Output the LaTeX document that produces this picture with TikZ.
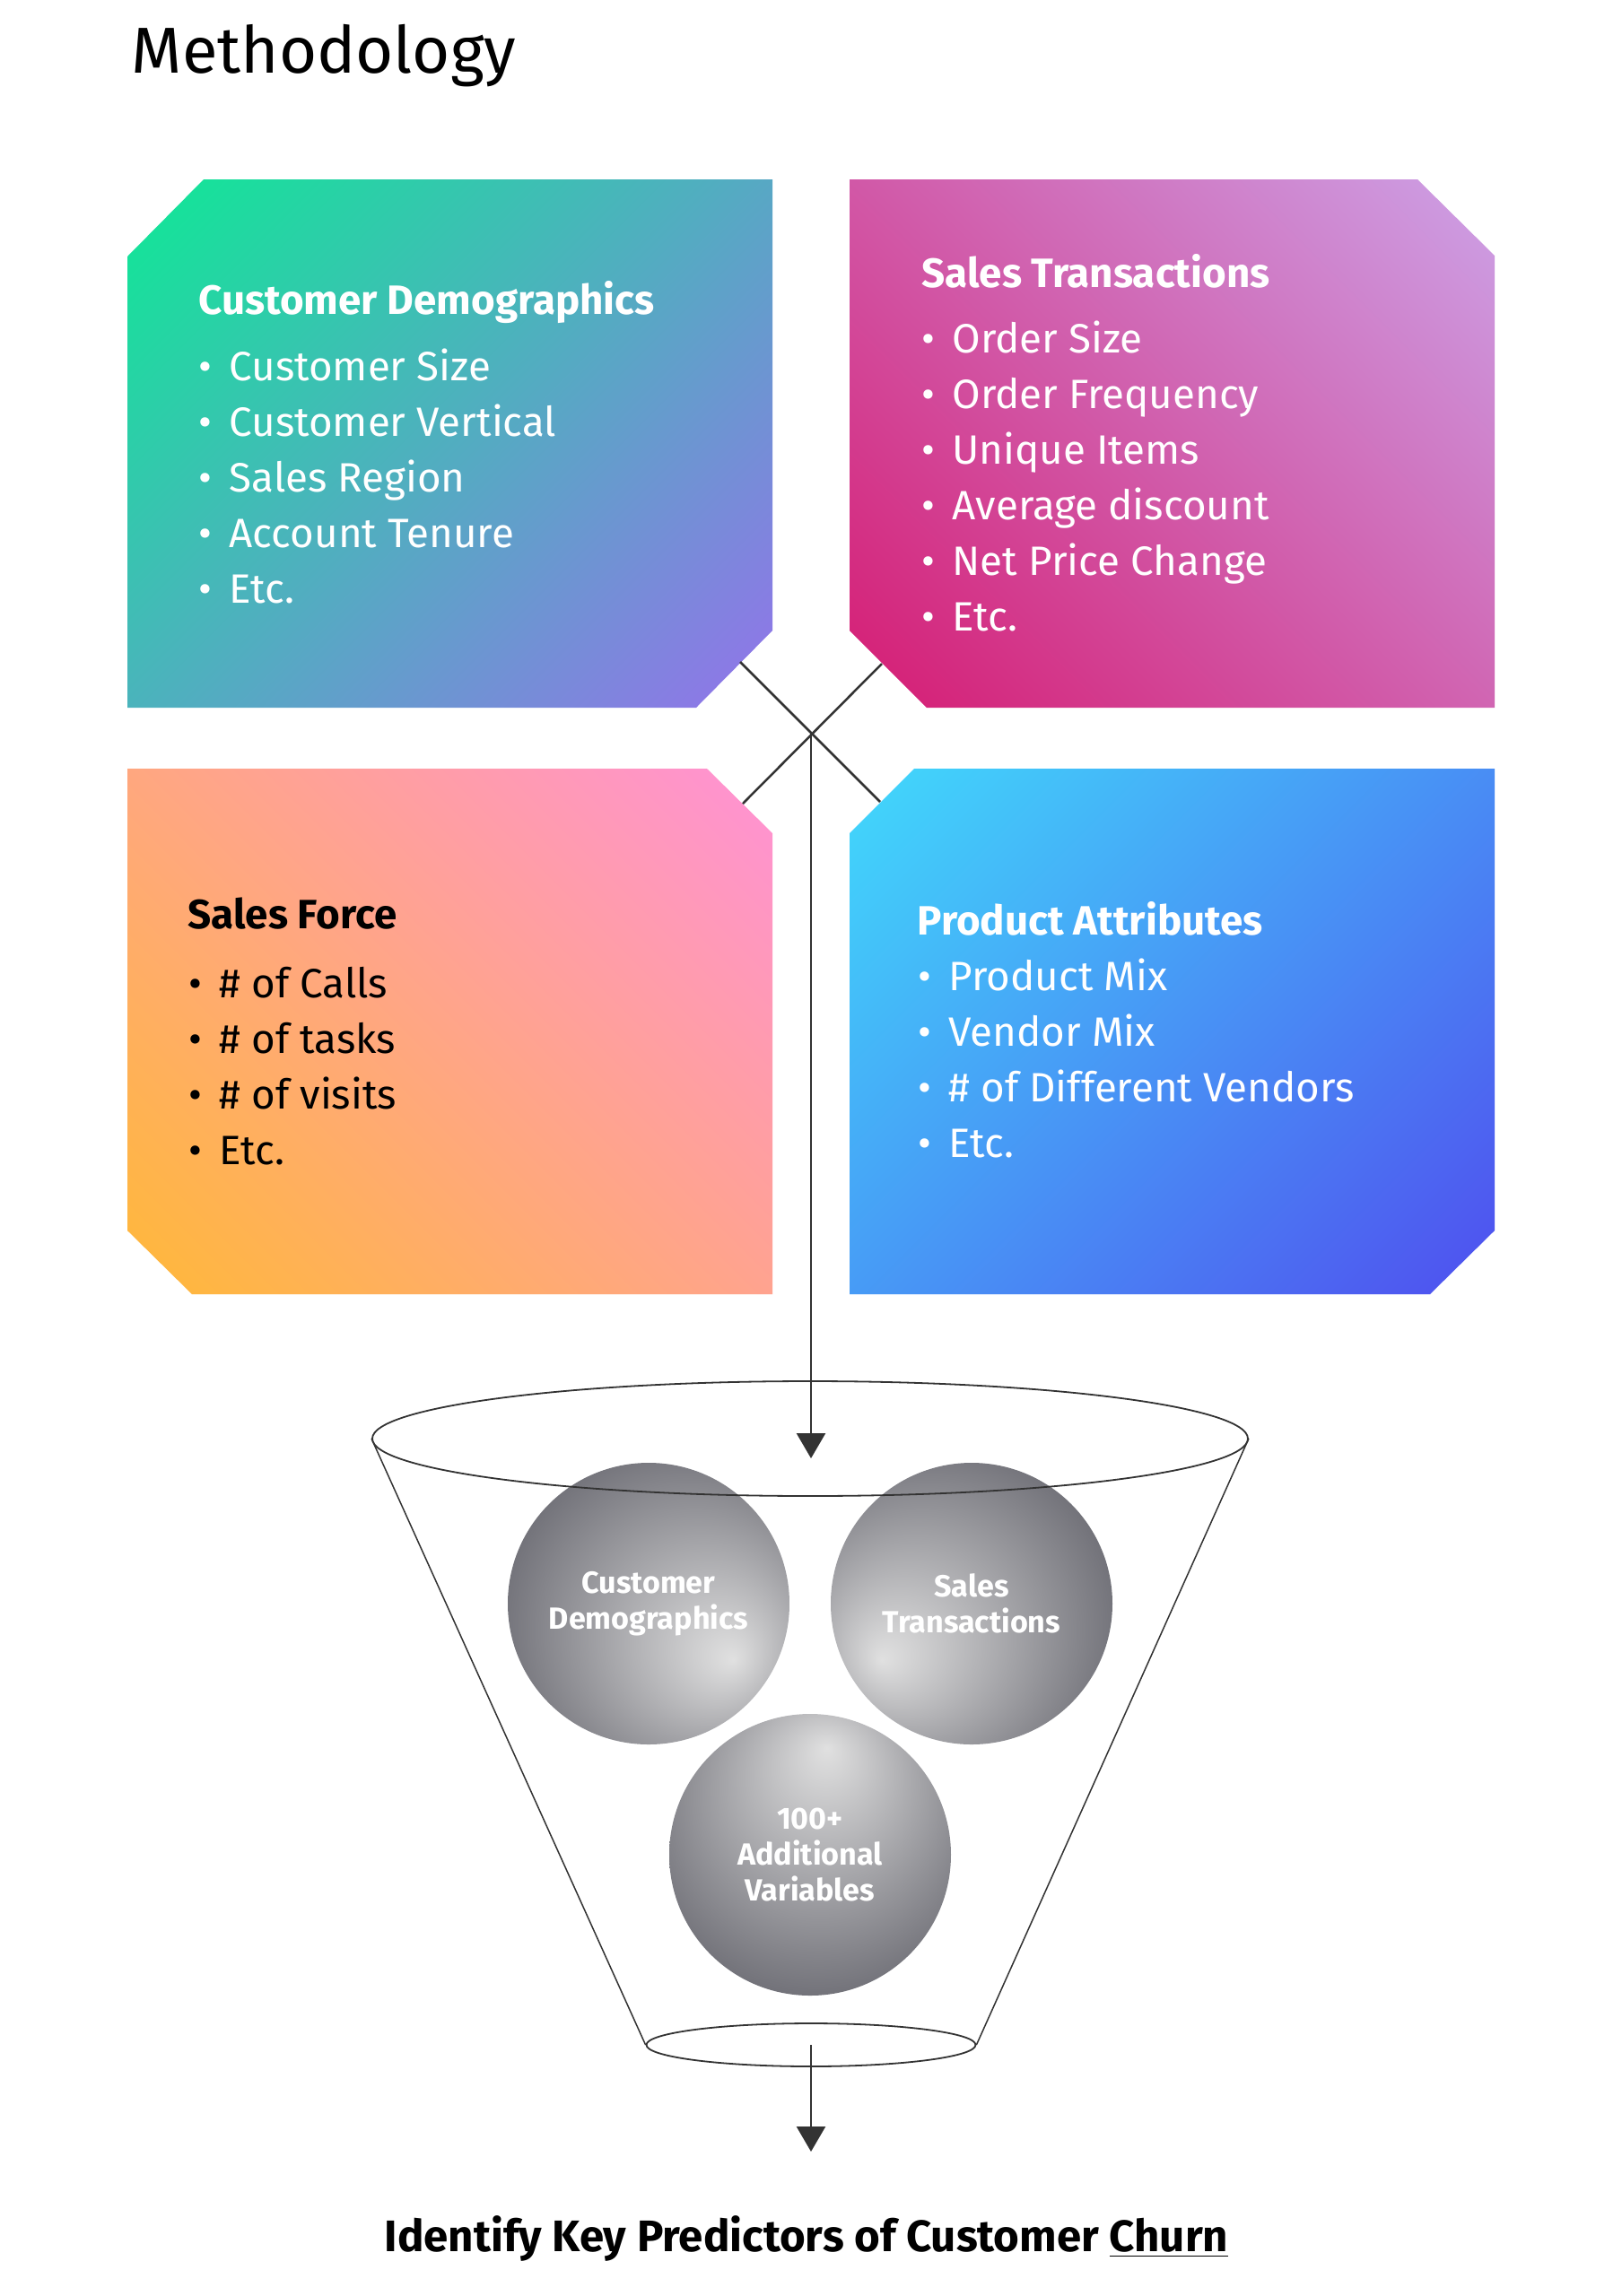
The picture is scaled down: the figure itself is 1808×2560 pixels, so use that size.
\documentclass[tikz,border=0pt]{standalone}
\usepackage{fontspec}
\setmainfont{Fira Sans}
\usetikzlibrary{arrows.meta,shapes.geometric}

\definecolor{cdgreen}{HTML}{06F090}
\definecolor{cdviolet}{HTML}{9C6BF0}
\definecolor{stpink}{HTML}{D6136B}
\definecolor{stlilac}{HTML}{CCAAEE}
\definecolor{sforange}{HTML}{FFBB2E}
\definecolor{sfpink}{HTML}{FF8FE0}
\definecolor{pacyan}{HTML}{40E2FC}
\definecolor{pablue}{HTML}{5046EE}
\definecolor{linegray}{HTML}{333333}

\pgfdeclareverticalshading{cdshade}{100bp}{color(0bp)=(cdviolet); color(10bp)=(cdviolet); color(90bp)=(cdgreen); color(100bp)=(cdgreen)}
\pgfdeclareverticalshading{stshade}{100bp}{color(0bp)=(stpink); color(10bp)=(stpink); color(90bp)=(stlilac); color(100bp)=(stlilac)}
\pgfdeclareverticalshading{sfshade}{100bp}{color(0bp)=(sforange); color(10bp)=(sforange); color(90bp)=(sfpink); color(100bp)=(sfpink)}
\pgfdeclareverticalshading{pashade}{100bp}{color(0bp)=(pablue); color(10bp)=(pablue); color(90bp)=(pacyan); color(100bp)=(pacyan)}
\pgfdeclareradialshading{ballcd}{\pgfpoint{15bp}{-10bp}}{rgb(0bp)=(0.88,0.88,0.88); rgb(34bp)=(0.42,0.42,0.45); rgb(50bp)=(0.42,0.42,0.45)}
\pgfdeclareradialshading{ballst}{\pgfpoint{-16bp}{-10bp}}{rgb(0bp)=(0.88,0.88,0.88); rgb(34bp)=(0.42,0.42,0.45); rgb(50bp)=(0.42,0.42,0.45)}
\pgfdeclareradialshading{ballvar}{\pgfpoint{3bp}{19bp}}{rgb(0bp)=(0.88,0.88,0.88); rgb(34bp)=(0.42,0.42,0.45); rgb(50bp)=(0.42,0.42,0.45)}

\newcommand{\bul}{\llap{\textbullet\hspace{1.9mm}}}

\begin{document}
\begin{tikzpicture}[x=0.1mm,y=-0.1mm,
    head/.style={anchor=base west,inner sep=0pt,text=white,
                 font=\fontsize{13}{15}\selectfont\bfseries},
    item/.style={anchor=base west,inner sep=0pt,text=white,
                 font=\fontsize{13}{15}\selectfont},
    ball/.style={circle,minimum size=31.4mm,inner sep=0pt,shade,text=white,
                 align=center,font=\fontsize{9.7}{11.4}\selectfont\bfseries},
    rim/.style={ellipse,draw=linegray,line width=0.18mm,inner sep=0pt},
    wire/.style={draw=linegray,line width=0.25mm},
    >={Triangle[width=3.2mm,length=2.8mm]}]
  \useasboundingbox (0,0) rectangle (1808,2560);

  \node[anchor=base west,inner sep=0pt,font=\fontsize{20.6}{26}\selectfont]
    (title) at (146,81) {Methodology};

  % the four boxes
  \shade[shading=cdshade,shading angle=45]
    (142,286) -- (227,200) -- (861,200) -- (861,703) -- (776,789) -- (142,789) -- cycle;
  \shade[shading=stshade,shading angle=-45]
    (947,200) -- (1580,200) -- (1666,285) -- (1666,789) -- (1033,789) -- (947,703) -- cycle;
  \shade[shading=sfshade,shading angle=-45]
    (142,857) -- (788,857) -- (861,929) -- (861,1443) -- (214,1443) -- (142,1372) -- cycle;
  \shade[shading=pashade,shading angle=45]
    (947,929) -- (1019,857) -- (1666,857) -- (1666,1372) -- (1594,1443) -- (947,1443) -- cycle;

  \node[head] (cdhead) at (221,350) {Customer Demographics};
  \foreach \txt [count=\i] in {Customer Size,Customer Vertical,Sales Region,Account Tenure,Etc.}
    \node[item] (cd\i) at (255,362+62*\i) {\bul\txt};

  \node[head] (sthead) at (1027,320) {Sales Transactions};
  \foreach \txt [count=\i] in {Order Size,Order Frequency,Unique Items,Average discount,Net Price Change,Etc.}
    \node[item] (st\i) at (1061,331+62*\i) {\bul\txt};

  \node[head,text=black] (sfhead) at (209,1035) {Sales Force};
  \foreach \txt [count=\i] in {\# of Calls,\# of tasks,\# of visits,Etc.}
    \node[item,text=black] (sf\i) at (244,1050+62*\i) {\bul\txt};

  \node[head] (pahead) at (1022,1042) {Product Attributes};
  \foreach \txt [count=\i] in {Product Mix,Vendor Mix,\# of Different Vendors,Etc.}
    \node[item] (pa\i) at (1057,1042+62*\i) {\bul\txt};

  % lines meeting between the boxes
  \coordinate (tlcut) at (825,738);
  \coordinate (trcut) at (983,740);
  \coordinate (blcut) at (828,896);
  \coordinate (brcut) at (981,894);
  \coordinate (hub) at (904,818);
  \coordinate (droptip) at (904,1626);
  \coordinate (outtip) at (904,2399);
  \draw[wire] (tlcut) -- (brcut);
  \draw[wire] (trcut) -- (blcut);
  \draw[wire,->] (hub) -- (droptip);

  % funnel
  \node[ball,shading=ballcd] (cdball) at (723,1788) {Customer\\Demographics};
  \node[ball,shading=ballst] (stball) at (1083,1788) {Sales\\Transactions};
  \node[ball,shading=ballvar] (varball) at (903,2068) {100+\\Additional\\Variables};
  \node[rim,minimum width=97.6mm,minimum height=12.8mm] (ftop) at (903,1604) {};
  \node[rim,minimum width=36.7mm,minimum height=4.8mm] (fbot) at (904,2280) {};
  \draw[linegray,line width=0.15mm] (ftop.west) -- (fbot.west) (ftop.east) -- (fbot.east);
  \draw[wire,->] (fbot.center) -- (outtip);

  \node[anchor=base,inner sep=0pt,font=\fontsize{14}{16}\selectfont\bfseries]
    (goal) at (899,2510) {Identify Key Predictors of Customer \underline{Churn}};
\end{tikzpicture}
\end{document}
